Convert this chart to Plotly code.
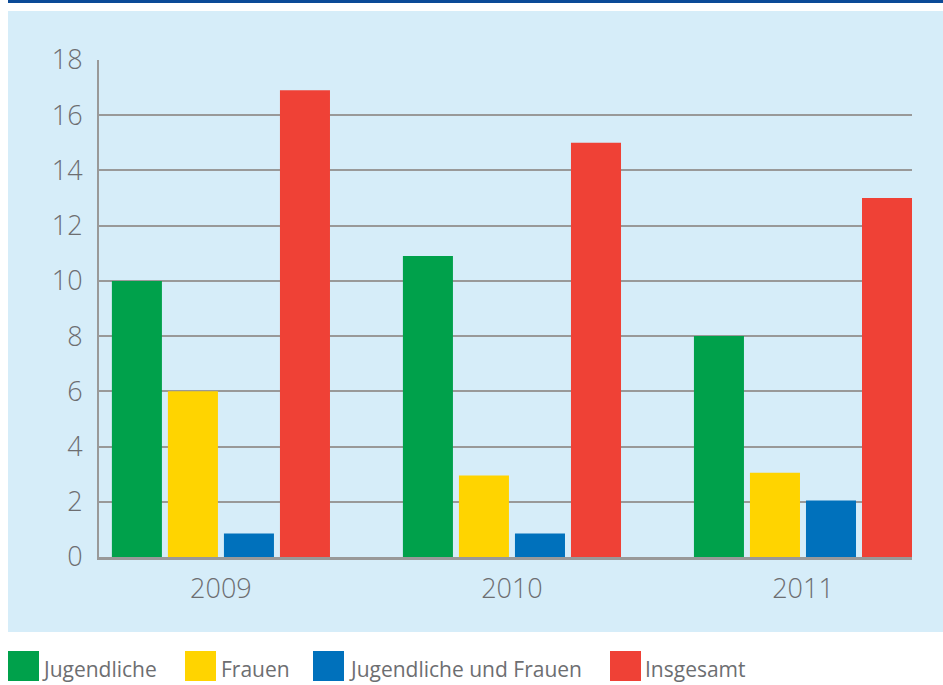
import plotly.graph_objects as go

years = ["2009", "2010", "2011"]
series_names = ["Jugendliche", "Frauen", "Jugendliche und Frauen", "Insgesamt"]
jugendliche = [10, 10.9, 8]
frauen = [6, 2.95, 3.05]
jug_und_frauen = [0.85, 0.85, 2.05]
insgesamt = [16.9, 15, 13]
series_values = [jugendliche, frauen, jug_und_frauen, insgesamt]
colors = ["#00a14b", "#ffd400", "#0071bc", "#ef4136"]
y_ticks = [0, 2, 4, 6, 8, 10, 12, 14, 16, 18]

W, H = 943, 685
L, R, T, B = 99, 912, 60, 557

def px(x):
    return (x - L) / (R - L)

def py(y):
    return (B - y) / (B - T)

FONT = "Open Sans"
fig = go.Figure()
for name, vals, c in zip(series_names, series_values, colors):
    fig.add_trace(go.Bar(x=years, y=vals, name=name, marker=dict(color=c, line=dict(width=0)),
                         showlegend=False))

shapes = [
    dict(type="rect", xref="paper", yref="paper", x0=px(8), x1=px(943), y0=py(632), y1=py(11),
         fillcolor="#d6edf9", line=dict(width=0), layer="below"),
    dict(type="rect", xref="paper", yref="paper", x0=px(8), x1=px(943), y0=py(3), y1=py(0),
         fillcolor="#0b4a97", line=dict(width=0), layer="below"),
]
annotations = []
sq_x = [8, 185, 313, 610]
tx_x = [40, 219, 347, 643]
for name, c, sx, tx in zip(series_names, colors, sq_x, tx_x):
    shapes.append(dict(type="rect", xref="paper", yref="paper", x0=px(sx), x1=px(sx + 31),
                       y0=py(681), y1=py(651), fillcolor=c, line=dict(width=0)))
    annotations.append(dict(xref="paper", yref="paper", x=px(tx), y=py(669), text=name,
                            showarrow=False, xanchor="left", yanchor="middle",
                            font=dict(family=FONT, size=21, color="#6d6e71")))

fig.update_layout(
    width=W, height=H,
    margin=dict(l=L, r=W - R, t=T, b=H - B, pad=0),
    paper_bgcolor="white",
    plot_bgcolor="rgba(0,0,0,0)",
    barmode="group",
    bargap=0.23,
    bargroupgap=0.107,
    shapes=shapes,
    annotations=annotations,
    xaxis=dict(type="category", range=[-0.419, 2.3746], showgrid=False,
               showline=True, linecolor="#999999", linewidth=3,
               ticks="", tickfont=dict(family=FONT, size=27, color="#6d6e71", weight=300),
               ticklabelstandoff=6),
    yaxis=dict(range=[0, 18], tickvals=y_ticks, showgrid=True, gridcolor="#999999", gridwidth=1.5,
               showline=True, linecolor="#999999", linewidth=2, zeroline=False,
               ticks="", tickfont=dict(family=FONT, size=27, color="#6d6e71", weight=300),
               ticklabelstandoff=9),
)
fig.write_html("out.html")
